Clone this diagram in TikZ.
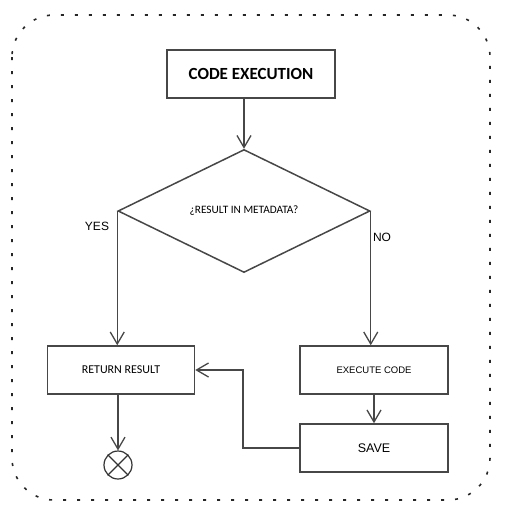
\documentclass[tikz,border=0pt]{standalone}
\usepackage{fontspec}
\setmainfont{Carlito}
\newfontfamily\arialfont{Liberation Sans}
\usetikzlibrary{arrows.meta, shapes.geometric}

\tikzset{
	box/.style={draw=black!72, line width=1.5pt, inner sep=0pt, minimum height=48pt},
	flow/.style={draw=black!72, line width=1.4pt, -{Straight Barb[length=12pt, width=14pt, line width=1.3pt]}},
	frame/.style={draw=black!85, line width=1.6pt, dash pattern=on 3pt off 11pt, rounded corners=42pt},
	tag/.style={font=\arialfont\fontsize{12}{14}\selectfont, inner sep=0pt},
}

\begin{document}
\begin{tikzpicture}[x=1pt, y=-1pt]
	\useasboundingbox (0,0) rectangle (508,515);
	\draw[frame] (12,15) rectangle (490,500);

	\node[box, minimum width=168pt, font=\bfseries\fontsize{17}{20}\selectfont] (exec) at (251,74) {CODE EXECUTION};
	\node[diamond, draw=black!72, line width=1.5pt, minimum width=252pt, minimum height=123pt, inner sep=0pt, font=\fontsize{11.3}{13}\selectfont] (check) at (244,211) {¿RESULT IN METADATA?};
	\node[box, minimum width=147pt, font=\fontsize{12}{14}\selectfont] (ret) at (121,370) {RETURN RESULT};
	\node[box, minimum width=148pt, font=\arialfont\fontsize{9.5}{11}\selectfont] (run) at (374,370) {EXECUTE CODE};
	\node[box, minimum width=148pt, font=\arialfont\fontsize{12.5}{14}\selectfont] (save) at (374,448) {SAVE};
	\node[circle, draw=black!80, line width=1.2pt, minimum size=28pt, inner sep=0pt] (end) at (118,465) {};
	\draw[black!80, line width=1.2pt] (end.45) -- (end.225) (end.135) -- (end.315);

	\node[tag] (yes) at (97,226) {YES};
	\node[tag] (no) at (382,237) {NO};
	\coordinate (back) at (243,0);

	\draw[flow] (check.north |- exec.south) -- (check.north);
	\draw[flow] (check.west) -- (check.west |- ret.north);
	\draw[flow] (check.east) -- (check.east |- run.north);
	\draw[flow] (run.south) -- (save.north);
	\draw[flow] (save.west) -- (save.west -| back) |- (ret.east);
	\draw[flow] (end.north |- ret.south) -- (end.north);
\end{tikzpicture}
\end{document}
